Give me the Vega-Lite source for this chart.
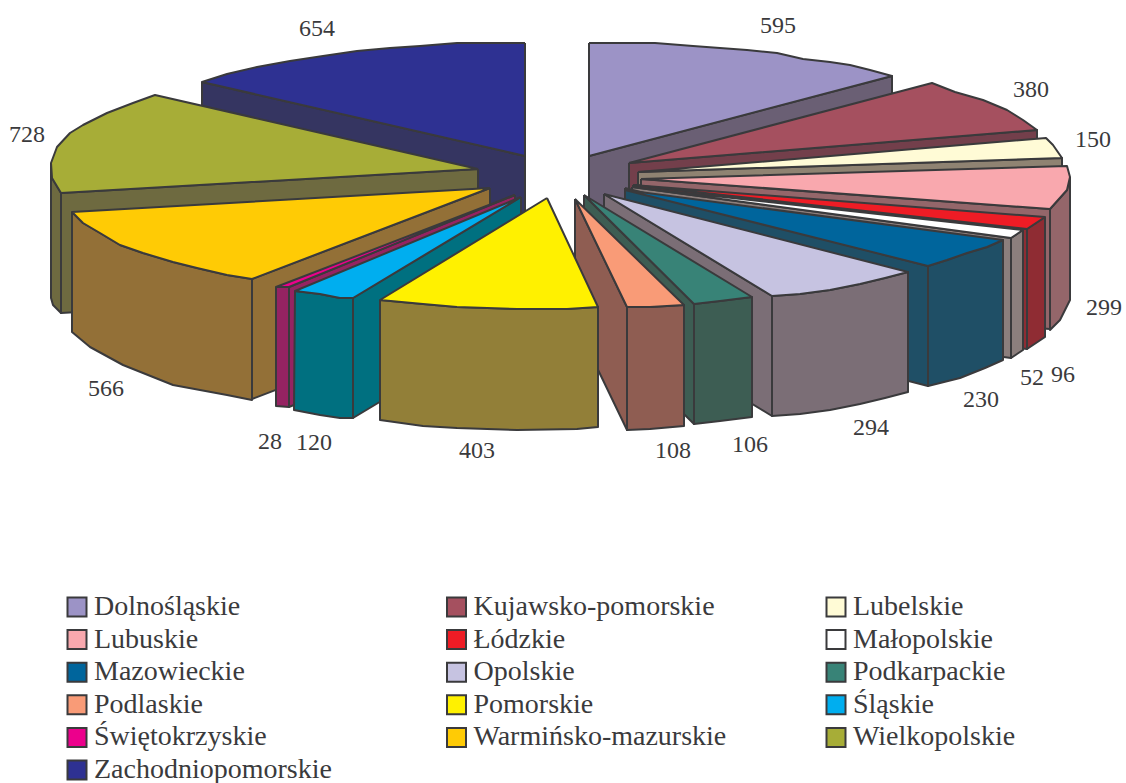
{"$schema":"https://vega.github.io/schema/vega-lite/v6.json","width":1126,"height":783,"padding":0,"autosize":"none","background":"white","view":{"stroke":null},"config":{"font":"Liberation Serif"},"datasets":{"labels":[{"r":"Dolnośląskie","v":595,"x":778,"y":26},{"r":"Kujawsko-pomorskie","v":380,"x":1031,"y":90},{"r":"Lubelskie","v":150,"x":1093,"y":140},{"r":"Lubuskie","v":299,"x":1104,"y":308},{"r":"Łódzkie","v":96,"x":1063,"y":375},{"r":"Małopolskie","v":52,"x":1032,"y":378},{"r":"Mazowieckie","v":230,"x":981,"y":400},{"r":"Opolskie","v":294,"x":871,"y":428},{"r":"Podkarpackie","v":106,"x":750,"y":445},{"r":"Podlaskie","v":108,"x":673,"y":451},{"r":"Pomorskie","v":403,"x":477,"y":451},{"r":"Śląskie","v":120,"x":314,"y":443},{"r":"Świętokrzyskie","v":28,"x":270,"y":442},{"r":"Warmińsko-mazurskie","v":566,"x":106,"y":389},{"r":"Wielkopolskie","v":728,"x":27,"y":135},{"r":"Zachodniopomorskie","v":654,"x":317,"y":29}],
"faces":[
{"s":"d1","f":"Dolnośląskie bok","i":0,"x":589,"y":156},{"s":"d1","f":"Dolnośląskie bok","i":1,"x":892,"y":76},{"s":"d1","f":"Dolnośląskie bok","i":2,"x":892,"y":196},{"s":"d1","f":"Dolnośląskie bok","i":3,"x":589,"y":276},{"s":"d1","f":"Dolnośląskie bok","i":4,"x":589,"y":156},
{"s":"d2","f":"Dolnośląskie","i":0,"x":589,"y":43},{"s":"d2","f":"Dolnośląskie","i":1,"x":655,"y":43},{"s":"d2","f":"Dolnośląskie","i":2,"x":693,"y":46},{"s":"d2","f":"Dolnośląskie","i":3,"x":747,"y":50},{"s":"d2","f":"Dolnośląskie","i":4,"x":777,"y":53},{"s":"d2","f":"Dolnośląskie","i":5,"x":803,"y":59},{"s":"d2","f":"Dolnośląskie","i":6,"x":830,"y":62},{"s":"d2","f":"Dolnośląskie","i":7,"x":850,"y":65},{"s":"d2","f":"Dolnośląskie","i":8,"x":870,"y":70},{"s":"d2","f":"Dolnośląskie","i":9,"x":892,"y":76},{"s":"d2","f":"Dolnośląskie","i":10,"x":589,"y":156},{"s":"d2","f":"Dolnośląskie","i":11,"x":589,"y":43},
{"s":"z1","f":"Zachodniopomorskie bok","i":0,"x":202,"y":82},{"s":"z1","f":"Zachodniopomorskie bok","i":1,"x":525,"y":156},{"s":"z1","f":"Zachodniopomorskie bok","i":2,"x":525,"y":276},{"s":"z1","f":"Zachodniopomorskie bok","i":3,"x":202,"y":202},{"s":"z1","f":"Zachodniopomorskie bok","i":4,"x":202,"y":82},
{"s":"z2","f":"Zachodniopomorskie","i":0,"x":525,"y":43},{"s":"z2","f":"Zachodniopomorskie","i":1,"x":457,"y":43},{"s":"z2","f":"Zachodniopomorskie","i":2,"x":420,"y":46},{"s":"z2","f":"Zachodniopomorskie","i":3,"x":390,"y":48},{"s":"z2","f":"Zachodniopomorskie","i":4,"x":357,"y":51},{"s":"z2","f":"Zachodniopomorskie","i":5,"x":323,"y":56},{"s":"z2","f":"Zachodniopomorskie","i":6,"x":290,"y":61},{"s":"z2","f":"Zachodniopomorskie","i":7,"x":257,"y":67},{"s":"z2","f":"Zachodniopomorskie","i":8,"x":227,"y":74},{"s":"z2","f":"Zachodniopomorskie","i":9,"x":202,"y":82},{"s":"z2","f":"Zachodniopomorskie","i":10,"x":525,"y":156},{"s":"z2","f":"Zachodniopomorskie","i":11,"x":525,"y":43},
{"s":"k1","f":"Kujawsko-pomorskie bok","i":0,"x":629,"y":163},{"s":"k1","f":"Kujawsko-pomorskie bok","i":1,"x":1037,"y":130},{"s":"k1","f":"Kujawsko-pomorskie bok","i":2,"x":1037,"y":250},{"s":"k1","f":"Kujawsko-pomorskie bok","i":3,"x":629,"y":283},{"s":"k1","f":"Kujawsko-pomorskie bok","i":4,"x":629,"y":163},
{"s":"k2","f":"Kujawsko-pomorskie","i":0,"x":629,"y":163},{"s":"k2","f":"Kujawsko-pomorskie","i":1,"x":932,"y":83},{"s":"k2","f":"Kujawsko-pomorskie","i":2,"x":955,"y":92},{"s":"k2","f":"Kujawsko-pomorskie","i":3,"x":983,"y":100},{"s":"k2","f":"Kujawsko-pomorskie","i":4,"x":1007,"y":110},{"s":"k2","f":"Kujawsko-pomorskie","i":5,"x":1023,"y":120},{"s":"k2","f":"Kujawsko-pomorskie","i":6,"x":1037,"y":130},{"s":"k2","f":"Kujawsko-pomorskie","i":7,"x":629,"y":163},
{"s":"b1","f":"Lubelskie bok","i":0,"x":638,"y":172},{"s":"b1","f":"Lubelskie bok","i":1,"x":1062,"y":158},{"s":"b1","f":"Lubelskie bok","i":2,"x":1062,"y":278},{"s":"b1","f":"Lubelskie bok","i":3,"x":638,"y":292},{"s":"b1","f":"Lubelskie bok","i":4,"x":638,"y":172},
{"s":"b2","f":"Lubelskie","i":0,"x":638,"y":172},{"s":"b2","f":"Lubelskie","i":1,"x":1046,"y":138},{"s":"b2","f":"Lubelskie","i":2,"x":1053,"y":145},{"s":"b2","f":"Lubelskie","i":3,"x":1062,"y":158},{"s":"b2","f":"Lubelskie","i":4,"x":638,"y":172},
{"s":"u1","f":"Lubuskie bok","i":0,"x":641,"y":179},{"s":"u1","f":"Lubuskie bok","i":1,"x":1050,"y":209},{"s":"u1","f":"Lubuskie bok","i":2,"x":1050,"y":329},{"s":"u1","f":"Lubuskie bok","i":3,"x":641,"y":299},{"s":"u1","f":"Lubuskie bok","i":4,"x":641,"y":179},
{"s":"u2","f":"Lubuskie bok","i":0,"x":1070,"y":177},{"s":"u2","f":"Lubuskie bok","i":1,"x":1067,"y":190},{"s":"u2","f":"Lubuskie bok","i":2,"x":1050,"y":209},{"s":"u2","f":"Lubuskie bok","i":3,"x":1050,"y":330},{"s":"u2","f":"Lubuskie bok","i":4,"x":1060,"y":320},{"s":"u2","f":"Lubuskie bok","i":5,"x":1070,"y":300},{"s":"u2","f":"Lubuskie bok","i":6,"x":1070,"y":177},
{"s":"u3","f":"Lubuskie","i":0,"x":641,"y":179},{"s":"u3","f":"Lubuskie","i":1,"x":1067,"y":166},{"s":"u3","f":"Lubuskie","i":2,"x":1070,"y":177},{"s":"u3","f":"Lubuskie","i":3,"x":1067,"y":190},{"s":"u3","f":"Lubuskie","i":4,"x":1050,"y":209},{"s":"u3","f":"Lubuskie","i":5,"x":641,"y":179},
{"s":"l1","f":"Łódzkie bok","i":0,"x":633,"y":185},{"s":"l1","f":"Łódzkie bok","i":1,"x":1027,"y":229},{"s":"l1","f":"Łódzkie bok","i":2,"x":1027,"y":349},{"s":"l1","f":"Łódzkie bok","i":3,"x":633,"y":305},{"s":"l1","f":"Łódzkie bok","i":4,"x":633,"y":185},
{"s":"l2","f":"Łódzkie bok","i":0,"x":1045,"y":217},{"s":"l2","f":"Łódzkie bok","i":1,"x":1027,"y":229},{"s":"l2","f":"Łódzkie bok","i":2,"x":1027,"y":349},{"s":"l2","f":"Łódzkie bok","i":3,"x":1045,"y":337},{"s":"l2","f":"Łódzkie bok","i":4,"x":1045,"y":217},
{"s":"l3","f":"Łódzkie","i":0,"x":633,"y":185},{"s":"l3","f":"Łódzkie","i":1,"x":1045,"y":217},{"s":"l3","f":"Łódzkie","i":2,"x":1027,"y":229},{"s":"l3","f":"Łódzkie","i":3,"x":633,"y":185},
{"s":"m1","f":"Małopolskie bok","i":0,"x":632,"y":187},{"s":"m1","f":"Małopolskie bok","i":1,"x":1011,"y":238},{"s":"m1","f":"Małopolskie bok","i":2,"x":1011,"y":358},{"s":"m1","f":"Małopolskie bok","i":3,"x":632,"y":307},{"s":"m1","f":"Małopolskie bok","i":4,"x":632,"y":187},
{"s":"m2","f":"Małopolskie bok","i":0,"x":1023,"y":230},{"s":"m2","f":"Małopolskie bok","i":1,"x":1011,"y":238},{"s":"m2","f":"Małopolskie bok","i":2,"x":1011,"y":358},{"s":"m2","f":"Małopolskie bok","i":3,"x":1023,"y":350},{"s":"m2","f":"Małopolskie bok","i":4,"x":1023,"y":230},
{"s":"m3","f":"Małopolskie","i":0,"x":632,"y":187},{"s":"m3","f":"Małopolskie","i":1,"x":1023,"y":230},{"s":"m3","f":"Małopolskie","i":2,"x":1011,"y":238},{"s":"m3","f":"Małopolskie","i":3,"x":632,"y":187},
{"s":"a1","f":"Mazowieckie bok","i":0,"x":625,"y":188},{"s":"a1","f":"Mazowieckie bok","i":1,"x":928,"y":266},{"s":"a1","f":"Mazowieckie bok","i":2,"x":928,"y":386},{"s":"a1","f":"Mazowieckie bok","i":3,"x":625,"y":308},{"s":"a1","f":"Mazowieckie bok","i":4,"x":625,"y":188},
{"s":"a2","f":"Mazowieckie bok","i":0,"x":928,"y":266},{"s":"a2","f":"Mazowieckie bok","i":1,"x":947,"y":260},{"s":"a2","f":"Mazowieckie bok","i":2,"x":967,"y":253},{"s":"a2","f":"Mazowieckie bok","i":3,"x":987,"y":247},{"s":"a2","f":"Mazowieckie bok","i":4,"x":1003,"y":240},{"s":"a2","f":"Mazowieckie bok","i":5,"x":1003,"y":360},{"s":"a2","f":"Mazowieckie bok","i":6,"x":985,"y":368},{"s":"a2","f":"Mazowieckie bok","i":7,"x":960,"y":378},{"s":"a2","f":"Mazowieckie bok","i":8,"x":928,"y":386},{"s":"a2","f":"Mazowieckie bok","i":9,"x":928,"y":266},
{"s":"a3","f":"Mazowieckie","i":0,"x":625,"y":190},{"s":"a3","f":"Mazowieckie","i":1,"x":1003,"y":240},{"s":"a3","f":"Mazowieckie","i":2,"x":987,"y":247},{"s":"a3","f":"Mazowieckie","i":3,"x":967,"y":253},{"s":"a3","f":"Mazowieckie","i":4,"x":947,"y":260},{"s":"a3","f":"Mazowieckie","i":5,"x":928,"y":266},{"s":"a3","f":"Mazowieckie","i":6,"x":625,"y":190},
{"s":"o1","f":"Opolskie bok","i":0,"x":604,"y":194},{"s":"o1","f":"Opolskie bok","i":1,"x":772,"y":296},{"s":"o1","f":"Opolskie bok","i":2,"x":772,"y":416},{"s":"o1","f":"Opolskie bok","i":3,"x":604,"y":314},{"s":"o1","f":"Opolskie bok","i":4,"x":604,"y":194},
{"s":"o2","f":"Opolskie bok","i":0,"x":772,"y":296},{"s":"o2","f":"Opolskie bok","i":1,"x":800,"y":294},{"s":"o2","f":"Opolskie bok","i":2,"x":830,"y":290},{"s":"o2","f":"Opolskie bok","i":3,"x":860,"y":284},{"s":"o2","f":"Opolskie bok","i":4,"x":885,"y":278},{"s":"o2","f":"Opolskie bok","i":5,"x":908,"y":272},{"s":"o2","f":"Opolskie bok","i":6,"x":908,"y":392},{"s":"o2","f":"Opolskie bok","i":7,"x":885,"y":398},{"s":"o2","f":"Opolskie bok","i":8,"x":860,"y":404},{"s":"o2","f":"Opolskie bok","i":9,"x":830,"y":410},{"s":"o2","f":"Opolskie bok","i":10,"x":800,"y":414},{"s":"o2","f":"Opolskie bok","i":11,"x":772,"y":416},{"s":"o2","f":"Opolskie bok","i":12,"x":772,"y":296},
{"s":"o3","f":"Opolskie","i":0,"x":604,"y":194},{"s":"o3","f":"Opolskie","i":1,"x":908,"y":272},{"s":"o3","f":"Opolskie","i":2,"x":885,"y":278},{"s":"o3","f":"Opolskie","i":3,"x":860,"y":284},{"s":"o3","f":"Opolskie","i":4,"x":830,"y":290},{"s":"o3","f":"Opolskie","i":5,"x":800,"y":294},{"s":"o3","f":"Opolskie","i":6,"x":772,"y":296},{"s":"o3","f":"Opolskie","i":7,"x":604,"y":194},
{"s":"p1","f":"Podkarpackie bok","i":0,"x":584,"y":195},{"s":"p1","f":"Podkarpackie bok","i":1,"x":694,"y":304},{"s":"p1","f":"Podkarpackie bok","i":2,"x":694,"y":424},{"s":"p1","f":"Podkarpackie bok","i":3,"x":584,"y":315},{"s":"p1","f":"Podkarpackie bok","i":4,"x":584,"y":195},
{"s":"p2","f":"Podkarpackie bok","i":0,"x":694,"y":304},{"s":"p2","f":"Podkarpackie bok","i":1,"x":720,"y":301},{"s":"p2","f":"Podkarpackie bok","i":2,"x":752,"y":297},{"s":"p2","f":"Podkarpackie bok","i":3,"x":752,"y":417},{"s":"p2","f":"Podkarpackie bok","i":4,"x":720,"y":421},{"s":"p2","f":"Podkarpackie bok","i":5,"x":694,"y":424},{"s":"p2","f":"Podkarpackie bok","i":6,"x":694,"y":304},
{"s":"p3","f":"Podkarpackie","i":0,"x":584,"y":195},{"s":"p3","f":"Podkarpackie","i":1,"x":752,"y":297},{"s":"p3","f":"Podkarpackie","i":2,"x":720,"y":301},{"s":"p3","f":"Podkarpackie","i":3,"x":694,"y":304},{"s":"p3","f":"Podkarpackie","i":4,"x":584,"y":195},
{"s":"q1","f":"Podlaskie bok","i":0,"x":575,"y":199},{"s":"q1","f":"Podlaskie bok","i":1,"x":627,"y":307},{"s":"q1","f":"Podlaskie bok","i":2,"x":627,"y":430},{"s":"q1","f":"Podlaskie bok","i":3,"x":575,"y":322},{"s":"q1","f":"Podlaskie bok","i":4,"x":575,"y":199},
{"s":"q2","f":"Podlaskie bok","i":0,"x":627,"y":307},{"s":"q2","f":"Podlaskie bok","i":1,"x":650,"y":307},{"s":"q2","f":"Podlaskie bok","i":2,"x":684,"y":305},{"s":"q2","f":"Podlaskie bok","i":3,"x":684,"y":426},{"s":"q2","f":"Podlaskie bok","i":4,"x":650,"y":429},{"s":"q2","f":"Podlaskie bok","i":5,"x":627,"y":430},{"s":"q2","f":"Podlaskie bok","i":6,"x":627,"y":307},
{"s":"q3","f":"Podlaskie","i":0,"x":575,"y":199},{"s":"q3","f":"Podlaskie","i":1,"x":684,"y":305},{"s":"q3","f":"Podlaskie","i":2,"x":650,"y":307},{"s":"q3","f":"Podlaskie","i":3,"x":627,"y":307},{"s":"q3","f":"Podlaskie","i":4,"x":575,"y":199},
{"s":"w1","f":"Wielkopolskie bok","i":0,"x":478,"y":169},{"s":"w1","f":"Wielkopolskie bok","i":1,"x":61,"y":193},{"s":"w1","f":"Wielkopolskie bok","i":2,"x":61,"y":313},{"s":"w1","f":"Wielkopolskie bok","i":3,"x":478,"y":289},{"s":"w1","f":"Wielkopolskie bok","i":4,"x":478,"y":169},
{"s":"w2","f":"Wielkopolskie bok","i":0,"x":51,"y":163},{"s":"w2","f":"Wielkopolskie bok","i":1,"x":52,"y":178},{"s":"w2","f":"Wielkopolskie bok","i":2,"x":61,"y":193},{"s":"w2","f":"Wielkopolskie bok","i":3,"x":61,"y":313},{"s":"w2","f":"Wielkopolskie bok","i":4,"x":53,"y":305},{"s":"w2","f":"Wielkopolskie bok","i":5,"x":51,"y":298},{"s":"w2","f":"Wielkopolskie bok","i":6,"x":51,"y":163},
{"s":"w3","f":"Wielkopolskie","i":0,"x":478,"y":169},{"s":"w3","f":"Wielkopolskie","i":1,"x":155,"y":95},{"s":"w3","f":"Wielkopolskie","i":2,"x":133,"y":103},{"s":"w3","f":"Wielkopolskie","i":3,"x":107,"y":113},{"s":"w3","f":"Wielkopolskie","i":4,"x":83,"y":125},{"s":"w3","f":"Wielkopolskie","i":5,"x":70,"y":133},{"s":"w3","f":"Wielkopolskie","i":6,"x":57,"y":147},{"s":"w3","f":"Wielkopolskie","i":7,"x":51,"y":163},{"s":"w3","f":"Wielkopolskie","i":8,"x":52,"y":178},{"s":"w3","f":"Wielkopolskie","i":9,"x":61,"y":193},{"s":"w3","f":"Wielkopolskie","i":10,"x":478,"y":169},
{"s":"r1","f":"Warmińsko-mazurskie bok","i":0,"x":490,"y":188},{"s":"r1","f":"Warmińsko-mazurskie bok","i":1,"x":252,"y":279},{"s":"r1","f":"Warmińsko-mazurskie bok","i":2,"x":252,"y":399},{"s":"r1","f":"Warmińsko-mazurskie bok","i":3,"x":490,"y":308},{"s":"r1","f":"Warmińsko-mazurskie bok","i":4,"x":490,"y":188},
{"s":"r2","f":"Warmińsko-mazurskie bok","i":0,"x":72,"y":212},{"s":"r2","f":"Warmińsko-mazurskie bok","i":1,"x":83,"y":223},{"s":"r2","f":"Warmińsko-mazurskie bok","i":2,"x":100,"y":233},{"s":"r2","f":"Warmińsko-mazurskie bok","i":3,"x":120,"y":245},{"s":"r2","f":"Warmińsko-mazurskie bok","i":4,"x":143,"y":253},{"s":"r2","f":"Warmińsko-mazurskie bok","i":5,"x":173,"y":262},{"s":"r2","f":"Warmińsko-mazurskie bok","i":6,"x":197,"y":268},{"s":"r2","f":"Warmińsko-mazurskie bok","i":7,"x":227,"y":275},{"s":"r2","f":"Warmińsko-mazurskie bok","i":8,"x":252,"y":279},{"s":"r2","f":"Warmińsko-mazurskie bok","i":9,"x":252,"y":400},{"s":"r2","f":"Warmińsko-mazurskie bok","i":10,"x":227,"y":395},{"s":"r2","f":"Warmińsko-mazurskie bok","i":11,"x":173,"y":385},{"s":"r2","f":"Warmińsko-mazurskie bok","i":12,"x":123,"y":365},{"s":"r2","f":"Warmińsko-mazurskie bok","i":13,"x":90,"y":347},{"s":"r2","f":"Warmińsko-mazurskie bok","i":14,"x":72,"y":332},{"s":"r2","f":"Warmińsko-mazurskie bok","i":15,"x":72,"y":212},
{"s":"r3","f":"Warmińsko-mazurskie","i":0,"x":490,"y":188},{"s":"r3","f":"Warmińsko-mazurskie","i":1,"x":72,"y":212},{"s":"r3","f":"Warmińsko-mazurskie","i":2,"x":83,"y":223},{"s":"r3","f":"Warmińsko-mazurskie","i":3,"x":100,"y":233},{"s":"r3","f":"Warmińsko-mazurskie","i":4,"x":120,"y":245},{"s":"r3","f":"Warmińsko-mazurskie","i":5,"x":143,"y":253},{"s":"r3","f":"Warmińsko-mazurskie","i":6,"x":173,"y":262},{"s":"r3","f":"Warmińsko-mazurskie","i":7,"x":197,"y":268},{"s":"r3","f":"Warmińsko-mazurskie","i":8,"x":227,"y":275},{"s":"r3","f":"Warmińsko-mazurskie","i":9,"x":252,"y":279},{"s":"r3","f":"Warmińsko-mazurskie","i":10,"x":490,"y":188},
{"s":"t1","f":"Świętokrzyskie bok","i":0,"x":515,"y":195},{"s":"t1","f":"Świętokrzyskie bok","i":1,"x":289,"y":287},{"s":"t1","f":"Świętokrzyskie bok","i":2,"x":289,"y":407},{"s":"t1","f":"Świętokrzyskie bok","i":3,"x":515,"y":315},{"s":"t1","f":"Świętokrzyskie bok","i":4,"x":515,"y":195},
{"s":"t2","f":"Świętokrzyskie bok","i":0,"x":276,"y":287},{"s":"t2","f":"Świętokrzyskie bok","i":1,"x":289,"y":287},{"s":"t2","f":"Świętokrzyskie bok","i":2,"x":289,"y":407},{"s":"t2","f":"Świętokrzyskie bok","i":3,"x":276,"y":406},{"s":"t2","f":"Świętokrzyskie bok","i":4,"x":276,"y":287},
{"s":"t3","f":"Świętokrzyskie","i":0,"x":515,"y":195},{"s":"t3","f":"Świętokrzyskie","i":1,"x":276,"y":287},{"s":"t3","f":"Świętokrzyskie","i":2,"x":289,"y":287},{"s":"t3","f":"Świętokrzyskie","i":3,"x":515,"y":195},
{"s":"h1","f":"Śląskie bok","i":0,"x":521,"y":197},{"s":"h1","f":"Śląskie bok","i":1,"x":353,"y":298},{"s":"h1","f":"Śląskie bok","i":2,"x":353,"y":418},{"s":"h1","f":"Śląskie bok","i":3,"x":521,"y":317},{"s":"h1","f":"Śląskie bok","i":4,"x":521,"y":197},
{"s":"h2","f":"Śląskie bok","i":0,"x":295,"y":291},{"s":"h2","f":"Śląskie bok","i":1,"x":320,"y":294},{"s":"h2","f":"Śląskie bok","i":2,"x":340,"y":298},{"s":"h2","f":"Śląskie bok","i":3,"x":353,"y":298},{"s":"h2","f":"Śląskie bok","i":4,"x":353,"y":418},{"s":"h2","f":"Śląskie bok","i":5,"x":340,"y":418},{"s":"h2","f":"Śląskie bok","i":6,"x":320,"y":415},{"s":"h2","f":"Śląskie bok","i":7,"x":294,"y":410},{"s":"h2","f":"Śląskie bok","i":8,"x":295,"y":291},
{"s":"h3","f":"Śląskie","i":0,"x":521,"y":197},{"s":"h3","f":"Śląskie","i":1,"x":295,"y":291},{"s":"h3","f":"Śląskie","i":2,"x":320,"y":294},{"s":"h3","f":"Śląskie","i":3,"x":340,"y":298},{"s":"h3","f":"Śląskie","i":4,"x":353,"y":298},{"s":"h3","f":"Śląskie","i":5,"x":521,"y":197},
{"s":"n1","f":"Pomorskie bok","i":0,"x":380,"y":300},{"s":"n1","f":"Pomorskie bok","i":1,"x":423,"y":304},{"s":"n1","f":"Pomorskie bok","i":2,"x":457,"y":307},{"s":"n1","f":"Pomorskie bok","i":3,"x":517,"y":309},{"s":"n1","f":"Pomorskie bok","i":4,"x":567,"y":309},{"s":"n1","f":"Pomorskie bok","i":5,"x":598,"y":307},{"s":"n1","f":"Pomorskie bok","i":6,"x":598,"y":427},{"s":"n1","f":"Pomorskie bok","i":7,"x":577,"y":429},{"s":"n1","f":"Pomorskie bok","i":8,"x":517,"y":430},{"s":"n1","f":"Pomorskie bok","i":9,"x":457,"y":428},{"s":"n1","f":"Pomorskie bok","i":10,"x":423,"y":426},{"s":"n1","f":"Pomorskie bok","i":11,"x":380,"y":420},{"s":"n1","f":"Pomorskie bok","i":12,"x":380,"y":300},
{"s":"n2","f":"Pomorskie","i":0,"x":547,"y":198},{"s":"n2","f":"Pomorskie","i":1,"x":380,"y":300},{"s":"n2","f":"Pomorskie","i":2,"x":423,"y":304},{"s":"n2","f":"Pomorskie","i":3,"x":457,"y":307},{"s":"n2","f":"Pomorskie","i":4,"x":517,"y":309},{"s":"n2","f":"Pomorskie","i":5,"x":567,"y":309},{"s":"n2","f":"Pomorskie","i":6,"x":598,"y":307},{"s":"n2","f":"Pomorskie","i":7,"x":547,"y":198}
]},
"layer":[
{"data":{"name":"faces"},"mark":{"type":"line","stroke":"#3a3a3c","strokeWidth":2,"strokeJoin":"round","interpolate":"linear"},
"encoding":{"x":{"field":"x","type":"quantitative","scale":{"domain":[0,1126],"nice":false,"zero":false},"axis":null},
"y":{"field":"y","type":"quantitative","scale":{"domain":[783,0],"nice":false,"zero":false},"axis":null},
"order":{"field":"i","type":"quantitative"},"detail":{"field":"s"},
"fill":{"field":"f","type":"nominal","scale":{
"domain":["Dolnośląskie","Kujawsko-pomorskie","Lubelskie","Lubuskie","Łódzkie","Małopolskie","Mazowieckie","Opolskie","Podkarpackie","Podlaskie","Pomorskie","Śląskie","Świętokrzyskie","Warmińsko-mazurskie","Wielkopolskie","Zachodniopomorskie","Dolnośląskie bok","Kujawsko-pomorskie bok","Lubelskie bok","Lubuskie bok","Łódzkie bok","Małopolskie bok","Mazowieckie bok","Opolskie bok","Podkarpackie bok","Podlaskie bok","Pomorskie bok","Śląskie bok","Świętokrzyskie bok","Warmińsko-mazurskie bok","Wielkopolskie bok","Zachodniopomorskie bok"],
"range":["#9c93c6","#a5505f","#fffbd6","#f9a8ae","#ee1c25","#ffffff","#00659c","#c6c3e1","#388377","#f99b77","#fff100","#00aeef","#ec008c","#ffcb05","#a7ad37","#2e3192","#6a5f74","#733f4b","#8f8372","#94666a","#8f2c33","#8c7f7d","#1f4f66","#7b6e76","#3d5d53","#8f5d52","#927f38","#007080","#952362","#937037","#6e6a40","#353561"]},
"legend":{"values":["Dolnośląskie","Kujawsko-pomorskie","Lubelskie","Lubuskie","Łódzkie","Małopolskie","Mazowieckie","Opolskie","Podkarpackie","Podlaskie","Pomorskie","Śląskie","Świętokrzyskie","Warmińsko-mazurskie","Wielkopolskie","Zachodniopomorskie"],"title":null,"orient":"none","direction":"horizontal","legendX":63,"legendY":593,"columns":3,"gridAlign":"all","columnPadding":95.5,"rowPadding":4.6,"symbolType":"square","symbolSize":361,"symbolStrokeColor":"#3a3a3c","symbolStrokeWidth":2,"symbolOpacity":1,"labelFont":"Liberation Serif","labelFontSize":28,"labelColor":"#3a3a3c","labelLimit":400,"labelOffset":3}}}},
{"data":{"name":"labels"},"mark":{"type":"text","font":"Liberation Serif","fontSize":24,"color":"#3a3a3c","align":"center","baseline":"middle"},
"encoding":{"x":{"field":"x","type":"quantitative"},"y":{"field":"y","type":"quantitative"},"text":{"field":"v","type":"quantitative"}}}
]}
